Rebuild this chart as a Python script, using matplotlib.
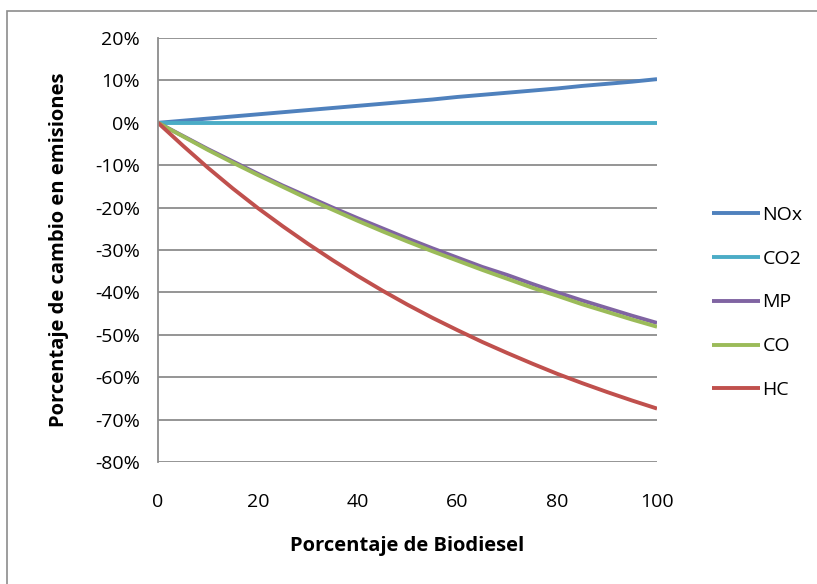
import numpy as np
import matplotlib.pyplot as plt
from matplotlib.patches import Rectangle
from matplotlib.ticker import FuncFormatter

plt.rcParams['font.family'] = ['Open Sans', 'DejaVu Sans']

# porcentaje de biodiesel
biodiesel = [0, 5, 10, 15, 20, 25, 30, 35, 40, 45, 50,
             55, 60, 65, 70, 75, 80, 85, 90, 95, 100]

# cambio en emisiones (%)
nox = [0, 0.5, 1.0, 1.5, 2.0, 2.5, 3.0, 3.5, 4.0, 4.5, 5.0,
       5.5, 6.1, 6.6, 7.1, 7.6, 8.1, 8.7, 9.2, 9.7, 10.3]
co2 = [0] * 21
mp = [0, -3.1, -6.2, -9.1, -12.0, -14.8, -17.4, -20.0, -22.5, -24.9, -27.3,
      -29.6, -31.8, -34.0, -35.9, -38.0, -40.0, -41.9, -43.7, -45.5, -47.2]
co = [0, -3.2, -6.4, -9.4, -12.3, -15.1, -17.9, -20.5, -23.1, -25.6, -28.0,
      -30.3, -32.5, -34.7, -36.8, -38.9, -40.8, -42.8, -44.6, -46.4, -48.1]
hc = [0, -5.4, -10.6, -15.5, -20.1, -24.4, -28.5, -32.4, -36.1, -39.6, -42.9,
      -46.0, -48.9, -51.7, -54.3, -56.8, -59.2, -61.4, -63.5, -65.5, -67.4]

series = [('NOx', nox, '#4F81BD'), ('CO2', co2, '#4BACC6'),
          ('MP', mp, '#8064A2'), ('CO', co, '#9BBB59'), ('HC', hc, '#C0504D')]

fig = plt.figure(figsize=(8.17, 5.84), dpi=100)
ax = fig.add_axes([0.1934, 0.2089, 0.6108, 0.726])

fig.patches.append(Rectangle((7 / 817, -0.01), 1.02, 1 - 11 / 584 + 0.01,
                             transform=fig.transFigure, fill=False,
                             edgecolor='#8c8c8c', linewidth=1.2))

for name, vals, color in series:
    ax.plot(biodiesel, vals, color=color, linewidth=2.8, label=name,
            solid_capstyle='butt')

ax.set_xlim(0, 100)
ax.set_ylim(-80, 20)
ax.set_xticks(range(0, 101, 20))
ax.set_yticks(range(-80, 21, 10))
ax.yaxis.set_major_formatter(FuncFormatter(lambda v, p: f'{int(v)}%'))
ax.grid(axis='y', color='#8c8c8c', linewidth=1.3)
ax.set_axisbelow(True)
for s in ['top', 'right', 'bottom']:
    ax.spines[s].set_visible(False)
ax.spines['left'].set_color('#8c8c8c')
ax.spines['left'].set_linewidth(1.3)
ax.tick_params(axis='both', length=0, labelsize=14)
ax.tick_params(axis='x', pad=22)
ax.tick_params(axis='y', pad=13)

ax.set_xlabel('Porcentaje de Biodiesel', fontsize=14.5, fontweight='bold', labelpad=18)
ax.set_ylabel('Porcentaje de cambio en emisiones', fontsize=14.5, fontweight='bold', labelpad=19)

ax.legend(loc='upper left', bbox_to_anchor=(702 / 817, 1 - 196 / 584),
          bbox_transform=fig.transFigure, frameon=False, fontsize=14,
          handlelength=2.5, handletextpad=0.1, labelspacing=1.33,
          borderpad=0)

fig.savefig('out.png', dpi=100)
